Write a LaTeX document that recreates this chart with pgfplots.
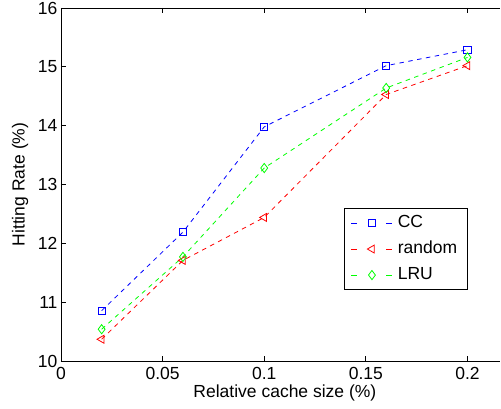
\documentclass[border=0pt]{standalone}
\usepackage{fontspec}
\setmainfont{Liberation Sans}
\usepackage{pgfplots}
\pgfplotsset{compat=1.18}
\newcommand\f{\fontsize{17.5}{21}\selectfont}
\definecolor{mblue}{rgb}{0,0,1}
\definecolor{mred}{rgb}{1,0,0}
\definecolor{mgreen}{rgb}{0,1,0}
\begin{document}
\begin{tikzpicture}
\begin{axis}[
  scale only axis, width=439pt, height=353pt,
  xmin=0, xmax=0.216, ymin=10, ymax=16,
  axis x line*=box, axis y line*=left,
  axis line style={black, line width=0.8pt},
  tick align=inside, major tick length=5pt,
  every tick/.style={black, line width=0.8pt},
  xtick={0,0.05,0.1,0.15,0.2},
  xticklabels={0,0.05,0.1,0.15,0.2},
  ytick={10,11,12,13,14,15,16},
  yticklabels={10,11,12,13,14,15,16},
  ytick pos=left,
  tick label style={font=\f},
  xticklabel style={yshift=-3pt},
  xlabel={Relative cache size (\%)},
  ylabel={Hitting Rate (\%)},
  label style={font=\f},
  xlabel style={at={(axis description cs:0.51,-0.0907)}, anchor=center},
  ylabel style={at={(axis description cs:-0.0934,0.5)}, anchor=center, rotate=0},
  every axis plot/.append style={line width=0.8pt, dash pattern=on 4.5pt off 4.5pt, mark size=3.6pt, mark options={solid}},
  legend style={font=\f, at={(axis description cs:0.645,0.433)}, anchor=north west,
    draw=black, line width=0.8pt, inner xsep=6.5pt, inner ysep=1.5pt,
    row sep=0pt, column sep=1pt,
    nodes={inner xsep=4pt, inner ysep=5pt, text height=12.5pt, text depth=3.5pt}},
  legend cell align=left,
  legend image code/.code={
    \draw[#1, solid] (0pt,0pt) -- (6pt,0pt) (35pt,0pt) -- (41pt,0pt);
    \draw[#1, solid] plot coordinates {(20.5pt,0pt)};
  },
]
\addplot[color=mblue, mark=square] coordinates {
  (0.02,10.855) (0.06,12.19) (0.1,13.98) (0.16,15.02) (0.2,15.29)
};
\addlegendentry{CC}
\addplot[color=mred, mark=triangle, mark size=4.6pt, mark options={solid, rotate=90}] coordinates {
  (0.02,10.37) (0.06,11.71) (0.1,12.44) (0.16,14.53) (0.2,15.02)
};
\addlegendentry{random}
\addplot[color=mgreen, mark=diamond, mark size=4.6pt] coordinates {
  (0.02,10.54) (0.06,11.77) (0.1,13.28) (0.16,14.64) (0.2,15.16)
};
\addlegendentry{LRU}
\end{axis}
\pgfresetboundingbox
\useasboundingbox (-61pt,-48pt) rectangle (440pt,361pt);
\end{tikzpicture}
\end{document}
